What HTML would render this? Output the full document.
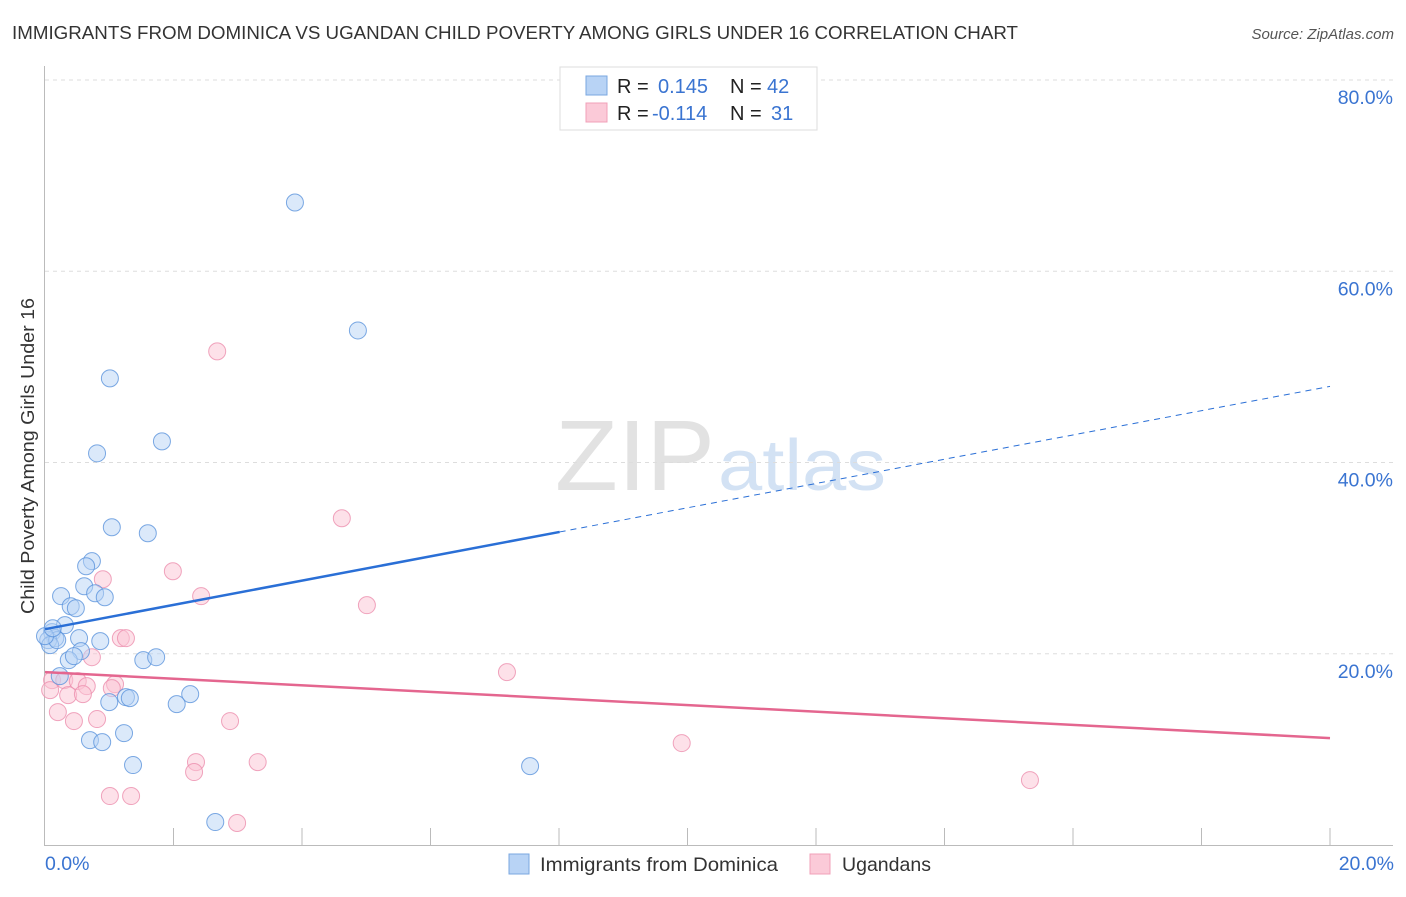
<!DOCTYPE html>
<html><head><meta charset="utf-8"><style>
body{margin:0;background:#fff;font-family:"Liberation Sans",sans-serif;}
svg text{font-family:"Liberation Sans",sans-serif;}
</style></head><body>
<svg id="chart" width="1406" height="892" xmlns="http://www.w3.org/2000/svg">
<text x="12" y="39" font-size="18" fill="#333" textLength="1006" lengthAdjust="spacingAndGlyphs">IMMIGRANTS FROM DOMINICA VS UGANDAN CHILD POVERTY AMONG GIRLS UNDER 16 CORRELATION CHART</text>
<text x="1394" y="39" font-size="15" fill="#555" font-style="italic" text-anchor="end">Source: ZipAtlas.com</text>
<text x="715" y="490" font-size="100" fill="#e2e2e2" text-anchor="end" font-family="Liberation Serif" textLength="160" lengthAdjust="spacingAndGlyphs">ZIP</text>
<text x="718" y="490" font-size="72" fill="#d3e2f4" textLength="168" lengthAdjust="spacingAndGlyphs">atlas</text>
<text transform="translate(34,456) rotate(-90)" font-size="18" fill="#333" text-anchor="middle" textLength="316" lengthAdjust="spacingAndGlyphs">Child Poverty Among Girls Under 16</text>
<g id="grid"></g><g id="pts"></g><g id="lines"></g>
<g>
<rect x="560" y="67" width="257" height="63" fill="#fff" stroke="#ddd"/>
<rect x="586" y="76" width="21" height="19" fill="#b8d3f5" stroke="#7aa7e0"/>
<rect x="586" y="103" width="21" height="19" fill="#fbcad8" stroke="#f0a0b8"/>
<text x="617" y="93" font-size="20" fill="#222">R =</text>
<text x="658" y="93" font-size="20" fill="#3a74d1">0.145</text>
<text x="730" y="93" font-size="20" fill="#222">N =</text>
<text x="767" y="93" font-size="20" fill="#3a74d1">42</text>
<text x="617" y="120" font-size="20" fill="#222">R =</text>
<text x="652" y="120" font-size="20" fill="#3a74d1">-0.114</text>
<text x="730" y="120" font-size="20" fill="#222">N =</text>
<text x="771" y="120" font-size="20" fill="#3a74d1">31</text>
</g>
<g>
<rect x="509" y="854" width="20" height="20" fill="#b8d3f5" stroke="#7aa7e0"/>
<text x="540" y="871" font-size="19.5" fill="#333" textLength="238" lengthAdjust="spacingAndGlyphs">Immigrants from Dominica</text>
<rect x="810" y="854" width="20" height="20" fill="#fbcad8" stroke="#f0a0b8"/>
<text x="842" y="871" font-size="19.5" fill="#333" textLength="89" lengthAdjust="spacingAndGlyphs">Ugandans</text>
</g>
<text x="45" y="870" font-size="19.5" fill="#3a74d1">0.0%</text>
<text x="1394" y="870" font-size="19.5" fill="#3a74d1" text-anchor="end">20.0%</text>
</svg>
<script>
const blueX=[3.89,4.87,1.01,1.82,0.81,1.04,1.60,0.73,0.64,0.61,0.25,0.78,0.93,0.40,0.48,0.31,0.11,0.16,0.05,0.53,0.86,0.56,0.37,0.45,1.53,1.73,0.23,2.26,1.00,1.26,1.32,2.05,1.23,0.70,0.89,1.37,7.55,2.65,0.08,0.19,0.00,0.12];
const blueY=[67.19,53.81,48.80,42.21,40.96,33.23,32.60,29.68,29.15,27.06,26.02,26.33,25.91,24.97,24.76,22.99,22.26,21.63,21.42,21.63,21.32,20.27,19.33,19.75,19.33,19.64,17.66,15.78,14.94,15.46,15.36,14.73,11.70,10.97,10.76,8.36,8.25,2.40,20.90,21.42,21.84,22.67];
const pinkX=[2.68,4.62,1.99,0.90,2.43,5.01,1.18,1.26,0.73,7.19,0.11,0.30,0.51,0.65,1.09,1.04,0.08,0.36,0.59,0.20,0.81,0.45,2.88,9.91,2.35,2.32,3.31,1.01,1.34,15.33,2.99];
const pinkY=[51.62,34.17,28.63,27.79,26.02,25.08,21.63,21.63,19.64,18.08,17.24,17.24,17.14,16.61,16.82,16.40,16.20,15.67,15.78,13.90,13.17,12.96,12.96,10.66,8.67,7.63,8.67,5.12,5.12,6.79,2.30];
const yTicks=[20,40,60,80];
const yTickLabels=["20.0%","40.0%","60.0%","80.0%"];
const blueTrend=[22.57,47.96];
const pinkTrend=[18.08,11.18];
const xAt=v=>45+v/20*1285;
const yAt=v=>845-v/80*765;
const NS="http://www.w3.org/2000/svg";
function mk(tag,attrs,parent){const e=document.createElementNS(NS,tag);for(const k in attrs)e.setAttribute(k,attrs[k]);parent.appendChild(e);return e;}
const grid=document.getElementById('grid');
yTicks.forEach((t,i)=>{
 const l=mk('line',{x1:45,x2:1393,y1:yAt(t),y2:yAt(t),stroke:'#ddd','stroke-dasharray':'4,4'},grid);
 
 
 const tx=mk('text',{x:1393,y:yAt(t)+24,'font-size':19.5,fill:'#3a74d1','text-anchor':'end'},grid);
 tx.textContent=yTickLabels[i];
 
 
});
const ax=mk('line',{x1:44.5,x2:44.5,y1:66,y2:845,stroke:'#bbb'},grid);


const bx=mk('line',{x1:44,x2:1393,y1:845.5,y2:845.5,stroke:'#bbb'},grid);


for(let i=1;i<=10;i++){const t=mk('line',{x1:xAt(i*2),x2:xAt(i*2),y1:828,y2:845,stroke:'#bbb'},grid);
 
 }
const pts=document.getElementById('pts');
function dots(xs,ys,fill,stroke,name){xs.forEach((x,i)=>{const c=mk('circle',{cx:xAt(x),cy:yAt(ys[i]),r:8.5,fill:fill,'fill-opacity':0.5,stroke:stroke,'stroke-opacity':0.8,'stroke-width':1},pts);
 
 });}
dots(pinkX,pinkY,'#fbc3d4','#ec8fae','point-ugandans');
dots(blueX,blueY,'#b8d3f5','#5b93dc','point-dominica');
const ln=document.getElementById('lines');
const bs=8.01, bv=blueTrend[0]+(blueTrend[1]-blueTrend[0])*bs/20;
const l1=mk('line',{x1:xAt(0),y1:yAt(blueTrend[0]),x2:xAt(bs),y2:yAt(bv),stroke:'#2a6fd6','stroke-width':2.5},ln);


const l2=mk('line',{x1:xAt(bs),y1:yAt(bv),x2:xAt(20),y2:yAt(blueTrend[1]),stroke:'#2a6fd6','stroke-width':1,'stroke-dasharray':'6,5'},ln);


const l3=mk('line',{x1:xAt(0),y1:yAt(pinkTrend[0]),x2:xAt(20),y2:yAt(pinkTrend[1]),stroke:'#e4668f','stroke-width':2.5},ln);


</script>
</body></html>
